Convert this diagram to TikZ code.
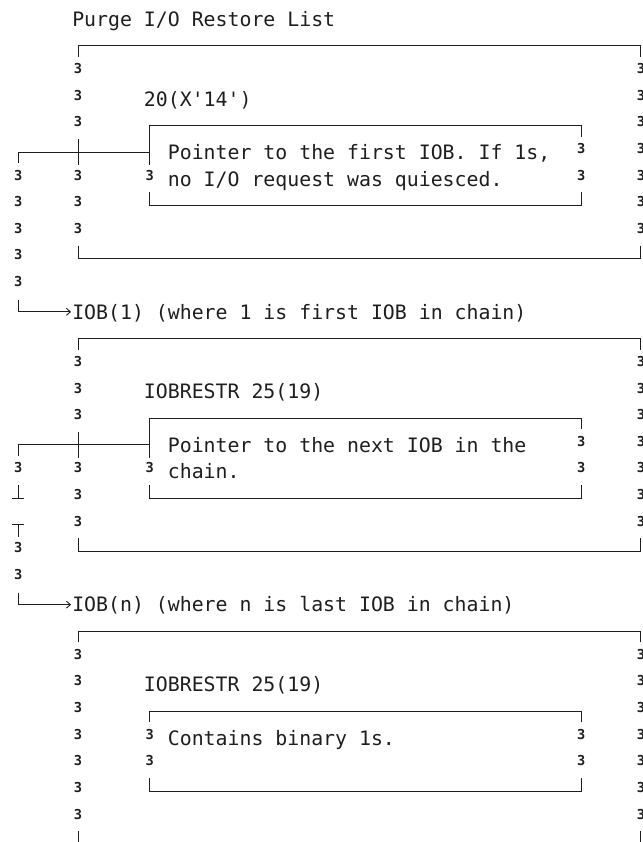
\documentclass[tikz,border=0pt]{standalone}
\usepackage{fontspec}
\setmonofont{DejaVu Sans Mono}
\usepackage{tikz}
\usetikzlibrary{arrows.meta,positioning,calc}
\definecolor{ink}{HTML}{1E1E1E}
\tikzset{
  % listing text, set on the 11.95pt x 26.62pt character grid
  txt/.style  = {anchor=base west, inner sep=0pt, yshift=-7.3pt, text=ink,
                 font=\ttfamily\fontsize{19.85pt}{24pt}\selectfont},
  % small 3 that stands in for a vertical rule
  bar/.style  = {anchor=base, inner sep=0pt, yshift=-1.4pt, text=ink,
                 font=\ttfamily\bfseries\fontsize{13.7pt}{16pt}\selectfont},
  rule/.style = {line width=0.9pt, draw=ink},
  lane/.style = {-{Straight Barb[length=4pt,width=7pt]}, line width=0.9pt, draw=ink,
                 shorten >=1pt},
}
\begin{document}
\begin{tikzpicture}[x=11.95pt, y=-26.62pt]
\useasboundingbox (0pt,0pt) rectangle (642pt,-842pt);
\clip (0pt,0pt) rectangle (642pt,-842pt);
\begin{scope}[shift={(18.3pt,-19pt)}]
% texts
\node[txt] (title) at (4.5,0)   {Purge I/O Restore List};
\node[txt] (off1)  at (10.5,3)  {20(X'14')};
\node[txt] (des1a) at (12.5,5)  {Pointer to the first IOB. If 1s,};
\node[txt] (des1b) at (12.5,6)  {no I/O request was quiesced.};
\node[txt] (iob1)  at (4.5,11)  {IOB(1) (where 1 is first IOB in chain)};
\node[txt] (off2)  at (10.5,14) {IOBRESTR 25(19)};
\node[txt] (des2a) at (12.5,16) {Pointer to the next IOB in the};
\node[txt] (des2b) at (12.5,17) {chain.};
\node[txt] (iobn)  at (4.5,22)  {IOB(n) (where n is last IOB in chain)};
\node[txt] (off3)  at (10.5,25) {IOBRESTR 25(19)};
\node[txt] (des3)  at (12.5,27) {Contains binary 1s.};
% outer and inner boxes, one set every 11 rows
\foreach \o in {0,11,22} {
  \draw[rule] (5,\o+1.42) -- (5,\o+1) -- (52.1,\o+1) -- (52.1,\o+1.42);
  \draw[rule] (47.1,\o+4.42) -- (47.1,\o+4) -- (11,\o+4) -- (11,\o+4.42);
  \draw[rule] (11,\o+6.51) -- (11,\o+7) -- (47.1,\o+7) -- (47.1,\o+6.51);
  \foreach \r in {2,...,8}
    {\node[bar] (re\o-\r) at (52.1,\o+\r) {3};}
  \foreach \r in {2,3,4,6,7,8}
    {\node[bar] (le\o-\r) at (5,\o+\r) {3};}
  \node[bar] (il\o-6) at (11,\o+6) {3};
  \foreach \r in {5,6}
    {\node[bar] (ir\o-\r) at (47.1,\o+\r) {3};}
}
% boxes that hold a pointer
\foreach \o in {0,11} {
  \draw[rule] (5,\o+8.51) -- (5,\o+9) -- (52.1,\o+9) -- (52.1,\o+8.51);
  \draw[rule] (5,\o+4.51) -- (5,\o+5.49);
  \draw[rule] (11,\o+4.42) -- (11,\o+5.49);
}
% last box, open at the foot
\node[bar] (le22-5) at (5,27)  {3};
\node[bar] (il22-5) at (11,27) {3};
\draw[rule] (5,30.51) -- (5,31.6);
\draw[rule] (52.1,30.51) -- (52.1,31.6);
% chain to IOB(1)
\coordinate (tee1)  at (11,5);
\coordinate (ptr1)  at (0,5);
\coordinate (bend1) at (0,11);
\draw[rule] (tee1) -- (ptr1) -- ++(0,0.4);
\foreach \r in {6,...,10}
  {\node[bar] (ch1-\r) at (0,\r) {3};}
\draw[lane] ($(bend1)+(0,-0.45)$) -- (bend1) -- (bend1 -| iob1.west);
% chain to IOB(n), broken across the page
\coordinate (tee2)  at (11,16);
\coordinate (ptr2)  at (0,16);
\coordinate (bend2) at (0,22);
\draw[rule] (tee2) -- (ptr2) -- ++(0,0.4);
\foreach \r in {17,20,21}
  {\node[bar] (ch2-\r) at (0,\r) {3};}
\draw[rule] (0,17.51) -- (0,18) (-0.5,18) -- (0.5,18);
\draw[rule] (-0.5,19) -- (0.5,19) (0,19) -- (0,19.45);
\draw[lane] ($(bend2)+(0,-0.45)$) -- (bend2) -- (bend2 -| iobn.west);
\end{scope}
\end{tikzpicture}
\end{document}
